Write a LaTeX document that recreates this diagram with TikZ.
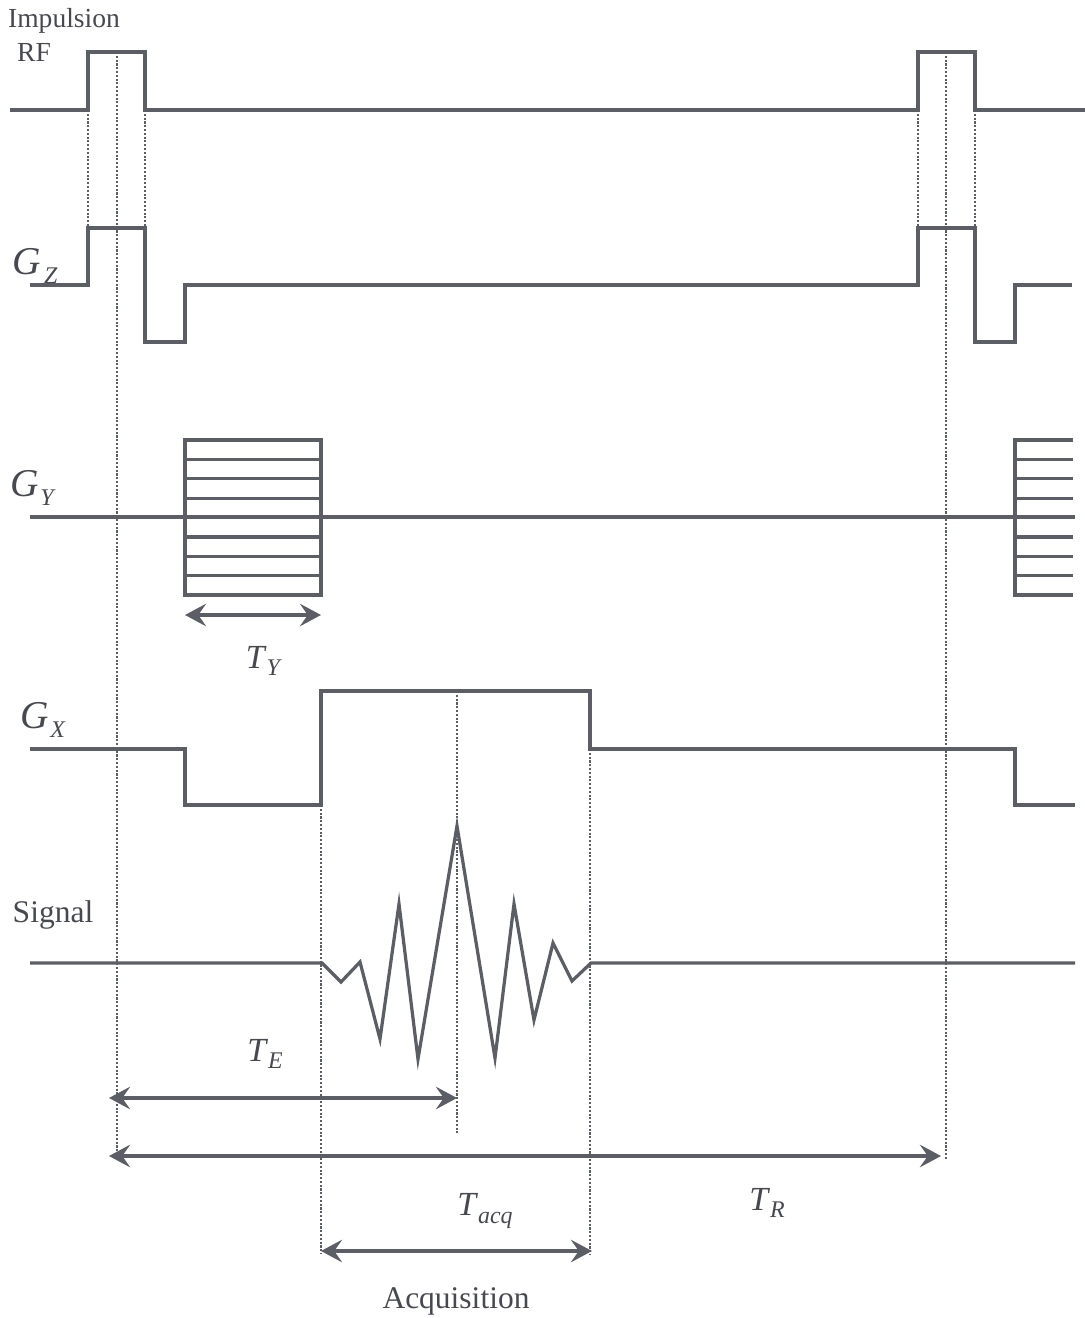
\documentclass[tikz,border=0pt]{standalone}
\usepackage{fontspec}
\setmainfont{Liberation Serif}
\usetikzlibrary{arrows.meta}
\definecolor{seqLineColor}{RGB}{92,94,102}
\definecolor{seqTextColor}{RGB}{72,73,80}
\providecommand{\seqLabel}[3][0pt]{\textit{#2}\kern#1\raisebox{-0.5ex}{\fontsize{8.5}{9}\selectfont\textit{#3}}}
\begin{document}
\begin{tikzpicture}[x=0.0125cm, y=-0.0125cm,
  wave/.style={draw=seqLineColor, line width=1.15pt, line join=miter},
  guide/.style={draw=seqLineColor, line width=0.75pt, dash pattern=on 0.75pt off 0.6pt},
  timearrow/.style={draw=seqLineColor, line width=1.15pt,
    arrows={Stealth[length=7.5pt,width=8pt,inset=2.8pt]-Stealth[length=7.5pt,width=8pt,inset=2.8pt]}},
  seqtext/.style={text=seqTextColor, inner sep=0pt, font=\fontsize{11.2}{13}\selectfont},
  gradtext/.style={text=seqTextColor, inner sep=0pt, font=\fontsize{14}{16}\selectfont},
  timetext/.style={text=seqTextColor, inner sep=0pt, font=\fontsize{12}{14}\selectfont}]
\useasboundingbox (0,0) rectangle (1085,1318);
% Labels of the channels
\node[seqtext, font=\fontsize{9.8}{11}\selectfont] (rfA) at (64,21) {Impulsion};
\node[seqtext, font=\fontsize{9.8}{11}\selectfont] (rfB) at (34,52) {RF};
\node[gradtext] (gz) at (35,266) {\seqLabel[1.2pt]{G}{Z}};
\node[gradtext] (gy) at (33,488) {\seqLabel[0.6pt]{G}{Y}};
\node[gradtext] (gx) at (43,720) {\seqLabel[0.6pt]{G}{X}};
\node[seqtext] (sig) at (53,915) {Signal};
% RF pulses
\draw[wave] (10,110) -- (88,110) -- (88,52) -- (145,52) -- (145,110) -- (918,110)
  -- (918,52) -- (975,52) -- (975,110) -- (1085,110);
% Slice selection gradient
\draw[wave] (30,285) -- (88,285) -- (88,228) -- (145,228) -- (145,342) -- (185,342)
  -- (185,285) -- (918,285) -- (918,228) -- (975,228) -- (975,342) -- (1015,342)
  -- (1015,285) -- (1072,285);
% Phase encoding gradient
\draw[wave] (30,517) -- (1075,517);
\draw[wave] (185,440) rectangle (321,595);
\foreach \k in {1,...,7}
  \draw[wave] (185,{440+19.4*\k}) -- (321,{440+19.4*\k});
\draw[wave] (1073,440) -- (1015,440) -- (1015,595) -- (1073,595);
\foreach \k in {1,...,7}
  \draw[wave] (1015,{440+19.4*\k}) -- (1073,{440+19.4*\k});
% Readout gradient
\draw[wave] (30,749) -- (185,749) -- (185,805) -- (321,805) -- (321,691) -- (590,691)
  -- (590,749) -- (1015,749) -- (1015,805) -- (1075,805);
% Signal
\draw[wave] (30,963) -- (322,963) -- (341,982) -- (360,962) -- (380,1039) -- (399,904)
  -- (418,1059) -- (457,826) -- (495,1058) -- (514,904) -- (534,1020) -- (553,943)
  -- (572,981) -- (591,963) -- (1075,963);
% Dotted guides
\draw[guide] (88,110) -- (88,228);
\draw[guide] (145,110) -- (145,228);
\draw[guide] (918,110) -- (918,228);
\draw[guide] (975,110) -- (975,228);
\draw[guide] (117,52) -- (117,1160);
\draw[guide] (946,52) -- (946,1160);
\draw[guide] (321,805) -- (321,1254);
\draw[guide] (590,749) -- (590,1254);
\draw[guide] (457,691) -- (457,1133);
% Time intervals
\coordinate (tyL) at (185,615);
\coordinate (tyR) at (321,615);
\coordinate (teL) at (109,1098);
\coordinate (teR) at (457,1098);
\coordinate (trL) at (109,1156);
\coordinate (trR) at (941,1156);
\coordinate (taL) at (321,1251);
\coordinate (taR) at (592,1251);
\draw[timearrow] (tyL) -- (tyR);
\draw[timearrow] (teL) -- (teR);
\draw[timearrow] (trL) -- (trR);
\draw[timearrow] (taL) -- (taR);
\node[timetext] (ty) at (264,661) {\seqLabel{T}{Y}};
\node[timetext] (te) at (265,1054) {\seqLabel{T}{E}};
\node[timetext] (tr) at (767,1203) {\seqLabel{T}{R}};
\node[timetext] (tacq) at (485,1211) {\seqLabel{T}{acq}};
\node[seqtext] (acq) at (456,1301) {Acquisition};
\end{tikzpicture}
\end{document}
